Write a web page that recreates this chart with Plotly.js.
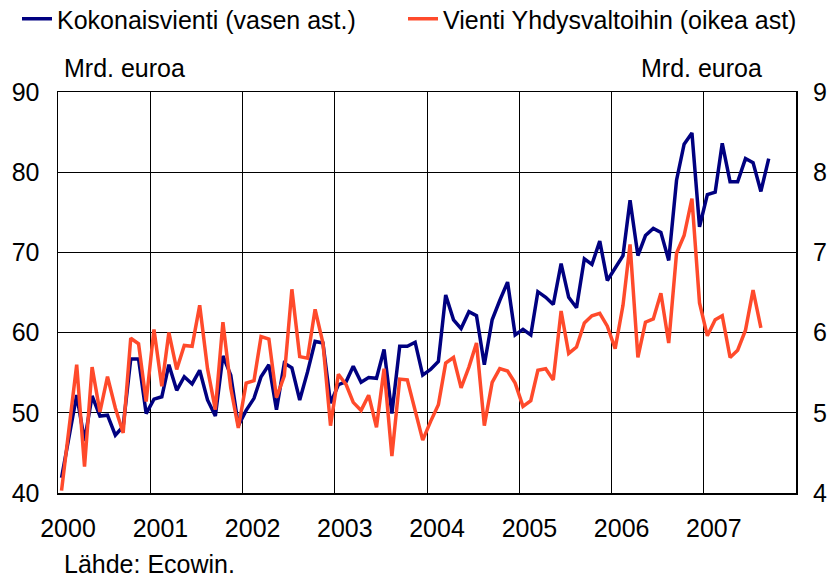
<!DOCTYPE html>
<html>
<head>
<meta charset="utf-8">
<script src="https://cdn.plot.ly/plotly-3.0.1.min.js"></script>
<style>html,body{margin:0;padding:0;background:#fff;}#chart{width:828px;height:578px;}</style>
</head>
<body>
<div id="chart"></div>
<script>
// Monthly data from January 2000
var startYear = 2000;
var seriesNames = ['Kokonaisvienti (vasen ast.)', 'Vienti Yhdysvaltoihin (oikea ast)'];
// Total exports, bn EUR (left axis), Jan 2000 – Sep 2007
var kokonaisvienti = [
  41.9, 47.0, 52.2, 46.5, 52.1, 49.6, 49.7, 47.2, 48.3, 56.7, 56.7, 49.9,
  51.7, 52.0, 56.0, 52.8, 54.5, 53.6, 55.3, 51.6, 49.6, 57.1, 54.7, 48.4,
  50.3, 51.8, 54.5, 56.0, 50.4, 56.2, 55.6, 51.6, 55.1, 58.9, 58.7, 51.2,
  53.5, 53.9, 55.8, 53.8, 54.4, 54.3, 57.9, 49.9, 58.3, 58.3, 58.8, 54.7,
  55.4, 56.4, 64.7, 61.6, 60.5, 62.6, 62.1, 56.0, 61.6, 64.0, 66.3, 59.7,
  60.4, 59.7, 65.1, 64.4, 63.5, 68.6, 64.4, 63.1, 69.2, 68.5, 71.4, 66.5,
  68.1, 69.6, 76.5, 69.6, 72.1, 73.0, 72.5, 69.0, 79.0, 83.5, 84.9, 73.2,
  77.2, 77.5, 83.6, 78.8, 78.8, 81.7, 81.2, 77.6, 81.7
];
// Exports to the USA, bn EUR (right axis), Jan 2000 – Aug 2007
var vientiUSA = [
  4.03, 4.80, 5.60, 4.33, 5.57, 5.01, 5.45, 5.06, 4.75, 5.93, 5.86, 5.14,
  6.04, 5.33, 6.00, 5.54, 5.84, 5.83, 6.34, 5.55, 5.04, 6.13, 5.31, 4.81,
  5.37, 5.40, 5.95, 5.92, 5.19, 5.46, 6.54, 5.70, 5.68, 6.29, 5.87, 4.84,
  5.48, 5.35, 5.13, 5.03, 5.22, 4.82, 5.55, 4.46, 5.42, 5.41, 5.04, 4.66,
  4.89, 5.10, 5.62, 5.69, 5.31, 5.57, 5.87, 4.84, 5.38, 5.55, 5.52, 5.37,
  5.08, 5.15, 5.53, 5.55, 5.41, 6.27, 5.74, 5.82, 6.12, 6.21, 6.24, 6.08,
  5.80, 6.34, 7.10, 5.69, 6.13, 6.17, 6.49, 5.87, 6.99, 7.21, 7.67, 6.37,
  5.96, 6.16, 6.21, 5.69, 5.78, 6.03, 6.53, 6.06
];
var yearTicks = ['2000', '2001', '2002', '2003', '2004', '2005', '2006', '2007'];
var leftTicks = [40, 50, 60, 70, 80, 90];
var rightTicks = [4, 5, 6, 7, 8, 9];

function monthDates(n) {
  var out = [];
  for (var i = 0; i < n; i++) {
    var y = startYear + Math.floor(i / 12);
    var m = (i % 12) + 1;
    out.push(y + '-' + (m < 10 ? '0' + m : m) + '-15');
  }
  return out;
}
var blue = '#000080', red = '#FF4A2B';
var font = {family: 'Liberation Sans, Arial, sans-serif', size: 25, color: '#000'};

var traces = [
  {x: monthDates(kokonaisvienti.length), y: kokonaisvienti, name: seriesNames[0],
   type: 'scatter', mode: 'lines', line: {color: blue, width: 3.5}, yaxis: 'y', legend: 'legend'},
  {x: monthDates(vientiUSA.length), y: vientiUSA, name: seriesNames[1],
   type: 'scatter', mode: 'lines', line: {color: red, width: 3.5}, yaxis: 'y2', legend: 'legend2'}
];

var layout = {
  width: 828, height: 578,
  margin: {l: 58, r: 32, t: 92, b: 85, pad: 0},
  paper_bgcolor: '#fff', plot_bgcolor: '#fff',
  font: font,
  showlegend: true,
  legend: {xref: 'container', yref: 'container', x: 17 / 828, y: 1 - 19 / 578, xanchor: 'left', yanchor: 'middle',
           orientation: 'h', font: font, bgcolor: 'rgba(0,0,0,0)', borderwidth: 0},
  legend2: {xref: 'container', yref: 'container', x: 403 / 828, y: 1 - 19 / 578, xanchor: 'left', yanchor: 'middle',
            orientation: 'h', font: font, bgcolor: 'rgba(0,0,0,0)', borderwidth: 0},
  xaxis: {
    type: 'date', range: ['2000-01-01', '2008-01-01'],
    tickvals: yearTicks.map(function (y) { return y + '-01-01'; }),
    ticktext: yearTicks,
    ticks: '', ticklabelshift: 10, ticklabelstandoff: 12,
    showgrid: true, gridcolor: '#000', gridwidth: 1,
    showline: true, mirror: true, linecolor: '#000', linewidth: 1.5,
    zeroline: false, fixedrange: true, tickfont: font
  },
  yaxis: {
    range: [40, 90], tickvals: leftTicks, ticktext: leftTicks.map(String),
    ticks: '', ticklabelstandoff: 12,
    showgrid: true, gridcolor: '#000', gridwidth: 1,
    showline: true, mirror: true, linecolor: '#000', linewidth: 1.5,
    zeroline: false, fixedrange: true, tickfont: font
  },
  yaxis2: {
    range: [4, 9], tickvals: rightTicks, ticktext: rightTicks.map(String),
    overlaying: 'y', side: 'right', anchor: 'x',
    ticks: '', ticklabelstandoff: 16, showgrid: false, showline: false,
    zeroline: false, fixedrange: true, tickfont: font
  },
  annotations: [
    {text: 'Mrd. euroa', xref: 'paper', yref: 'paper', x: (62 - 58) / 738, y: (493 - 68) / 401,
     xanchor: 'left', yanchor: 'middle', showarrow: false, font: font},
    {text: 'Mrd. euroa', xref: 'paper', yref: 'paper', x: (764 - 58) / 738, y: (493 - 68) / 401,
     xanchor: 'right', yanchor: 'middle', showarrow: false, font: font},
    {text: 'Lähde: Ecowin.', xref: 'paper', yref: 'paper', x: (62 - 58) / 738, y: (493 - 564) / 401,
     xanchor: 'left', yanchor: 'middle', showarrow: false, font: font}
  ]
};

Plotly.newPlot('chart', traces, layout, {displayModeBar: false, staticPlot: true});
</script>
</body>
</html>
